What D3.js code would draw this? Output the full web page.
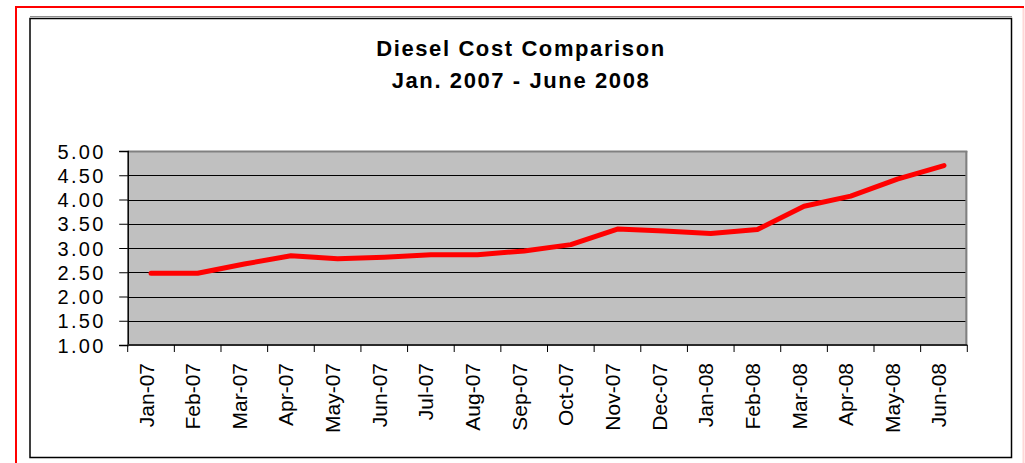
<!DOCTYPE html>
<html>
<head>
<meta charset="utf-8">
<script src="https://cdn.jsdelivr.net/npm/d3@7"></script>
<style>
  html, body { margin: 0; padding: 0; background: #fff; }
  svg { display: block; }
  text { font-family: "Liberation Sans", Arial, sans-serif; fill: #000; }
</style>
</head>
<body>
<svg id="chart" width="1025" height="463"></svg>
<script>
const titleLines = ["Diesel Cost Comparison", "Jan. 2007 - June 2008"];
const months = ["Jan-07","Feb-07","Mar-07","Apr-07","May-07","Jun-07","Jul-07","Aug-07","Sep-07",
                "Oct-07","Nov-07","Dec-07","Jan-08","Feb-08","Mar-08","Apr-08","May-08","Jun-08"];
const dieselCost = [2.48, 2.48, 2.67, 2.84, 2.78, 2.81, 2.86, 2.86, 2.94,
                    3.07, 3.39, 3.35, 3.30, 3.38, 3.86, 4.07, 4.42, 4.70];
const yTicks = [1.00, 1.50, 2.00, 2.50, 3.00, 3.50, 4.00, 4.50, 5.00];

const svg = d3.select("#chart");

// outer red border (top/left strong, right faint)
svg.append("line").attr("x1", 16).attr("y1", 7).attr("x2", 1024).attr("y2", 7)
  .attr("stroke", "#ff0000").attr("stroke-width", 2);
svg.append("line").attr("x1", 16).attr("y1", 6).attr("x2", 16).attr("y2", 463)
  .attr("stroke", "#ff0000").attr("stroke-width", 2);
svg.append("line").attr("x1", 1023.5).attr("y1", 8).attr("x2", 1023.5).attr("y2", 463)
  .attr("stroke", "#ffd6d6").attr("stroke-width", 2);

// chart frame
svg.append("line").attr("x1", 30).attr("y1", 16.5).attr("x2", 1012).attr("y2", 16.5)
  .attr("stroke", "#909090").attr("stroke-width", 1);
svg.append("rect").attr("x", 30).attr("y", 18.5).attr("width", 981.5).attr("height", 439)
  .attr("fill", "#fff").attr("stroke", "#000").attr("stroke-width", 1.5);

// title
svg.selectAll("text.title").data(titleLines).enter().append("text")
  .attr("class", "title")
  .attr("x", 521)
  .attr("y", (d, i) => 56 + i * 32)
  .attr("text-anchor", "middle")
  .style("font-size", "22px")
  .style("font-weight", "bold")
  .style("letter-spacing", "1.6px")
  .text(d => d);

const plotL = 127.7, plotR = 967.3, plotT = 151, plotB = 345;

const x = d3.scaleBand().domain(months).range([plotL, plotR]).padding(0);
const y = d3.scaleLinear().domain([1, 5]).range([plotB, plotT]);

// plot area
svg.append("rect").attr("x", plotL).attr("y", plotT)
  .attr("width", plotR - plotL).attr("height", plotB - plotT)
  .attr("fill", "#c0c0c0");

// gridlines
svg.append("g").selectAll("line").data(yTicks.filter(v => v > 1 && v < 5)).enter().append("line")
  .attr("x1", plotL).attr("x2", plotR - 1)
  .attr("y1", d => Math.round(y(d)) + 0.5).attr("y2", d => Math.round(y(d)) + 0.5)
  .attr("stroke", "#000").attr("stroke-width", 1);

// plot border: top and right grey
svg.append("line").attr("x1", plotL).attr("x2", plotR).attr("y1", plotT + 0.5).attr("y2", plotT + 0.5)
  .attr("stroke", "#808080").attr("stroke-width", 2);
svg.append("line").attr("x1", plotR - 1).attr("x2", plotR - 1).attr("y1", plotT).attr("y2", plotB)
  .attr("stroke", "#808080").attr("stroke-width", 2);

// y axis
const yAxis = d3.axisLeft(y).tickValues(yTicks).tickSize(8.5).tickPadding(14)
  .tickFormat(d3.format(".2f"));
const gy = svg.append("g").attr("transform", `translate(${plotL},0)`).call(yAxis);
gy.select(".domain").attr("stroke", "#000").attr("stroke-width", 1.5);
gy.selectAll(".tick line").attr("stroke", "#000").attr("stroke-width", 1);
gy.selectAll(".tick text")
  .attr("x", -22)
  .attr("dy", "0.36em")
  .style("font-size", "20px")
  .style("letter-spacing", "2.3px")
  .style("font-family", "'Liberation Sans', Arial, sans-serif")
  .attr("fill", "#000");

// x axis: ticks at band boundaries
const boundaries = months.map(m => x(m)).concat([plotR]);
const gx = svg.append("g");
gx.append("line").attr("x1", plotL).attr("x2", plotR).attr("y1", plotB).attr("y2", plotB)
  .attr("stroke", "#2a2a2a").attr("stroke-width", 2);
gx.selectAll("line.tk").data(boundaries).enter().append("line")
  .attr("class", "tk")
  .attr("x1", d => d).attr("x2", d => d)
  .attr("y1", plotB).attr("y2", plotB + 7)
  .attr("stroke", "#000").attr("stroke-width", 1);
gx.selectAll("text").data(months).enter().append("text")
  .attr("transform", d => `translate(${x(d) + x.bandwidth() / 2 + 2.5},363) rotate(-90)`)
  .attr("text-anchor", "end")
  .style("font-size", "21px")
  .text(d => d);

// data line
const line = d3.line()
  .x((d, i) => x(months[i]) + x.bandwidth() / 2)
  .y(d => y(d));
svg.append("path").datum(dieselCost)
  .attr("d", line)
  .attr("fill", "none")
  .attr("stroke", "#ff0000")
  .attr("stroke-width", 5)
  .attr("stroke-linejoin", "round")
  .attr("stroke-linecap", "round");
</script>
</body>
</html>
